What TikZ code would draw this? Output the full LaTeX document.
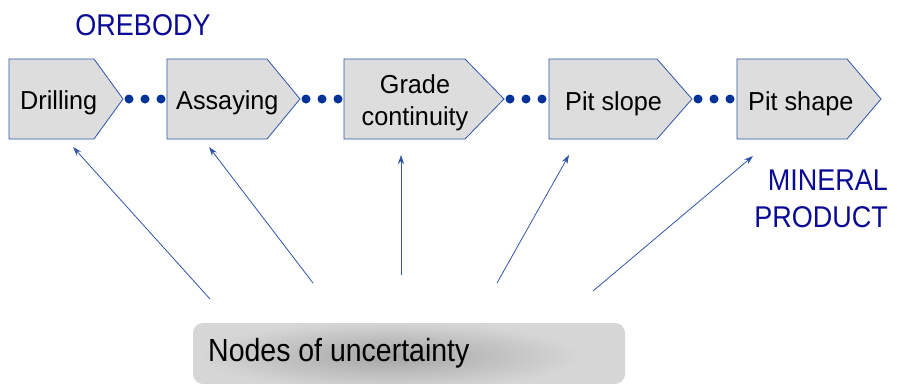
\documentclass[tikz,border=0pt]{standalone}
\usepackage{fontspec}
\setmainfont{Liberation Sans}
\usetikzlibrary{arrows.meta}
\definecolor{boxgray}{HTML}{DDDDDD}
\definecolor{edgeblue}{HTML}{2E54A8}
\definecolor{dotblue}{HTML}{003399}
\definecolor{textblue}{HTML}{0A0A96}
\definecolor{padgray}{HTML}{D6D6D6}
\def\Stage#1#2#3{\draw[edgeblue,fill=boxgray,line width=0.8pt] (#1,59) -- (#2,59) -- (#3,99) -- (#2,139) -- (#1,139) -- cycle;}
\def\Dots#1{\foreach \d in {6,22,38} \fill[dotblue] (#1+\d,99) circle (4.5);}

\begin{document}
\begin{tikzpicture}[x=1pt,y=-1pt,
  stagetext/.style={font=\fontsize{26}{32}\selectfont,inner sep=0pt},
  tag/.style={font=\fontsize{30}{37}\selectfont,text=textblue,inner sep=0pt},
  link/.style={edgeblue,line width=0.8pt,-{Stealth[length=9pt,width=6pt]}}]
\useasboundingbox (0,0) rectangle (897,383);
% value chain
\Stage{9}{94}{123} \Stage{167}{267}{300} \Stage{344}{465}{504} \Stage{549}{657}{692} \Stage{737}{847}{881}
\Dots{123} \Dots{300} \Dots{504} \Dots{692}
\node[stagetext,anchor=base west] (drill) at (20,109) {\scalebox{0.97}[1]{Drilling}};
\node[stagetext,anchor=base west] (assay) at (176,109) {\scalebox{0.97}[1]{Assaying}};
\node[stagetext,anchor=base,align=center] (grade) at (415,125) {\scalebox{0.97}[1]{Grade}\\\scalebox{0.97}[1]{continuity}};
\node[stagetext,anchor=base west] (slope) at (565,110) {\scalebox{0.97}[1]{Pit slope}};
\node[stagetext,anchor=base west] (shape) at (748,110) {\scalebox{0.97}[1]{Pit shape}};
\node[tag,anchor=base] (ore) at (143,35) {\scalebox{0.9}[1]{OREBODY}};
\node[tag,anchor=base east,align=right] (product) at (888,227) {\scalebox{0.9}[1]{MINERAL}\\\scalebox{0.9}[1]{PRODUCT}};
% uncertainty pad
\fill[padgray,rounded corners=10pt] (193,323) rectangle (625,384);
\begin{scope}
  \clip[rounded corners=10pt] (193,323) rectangle (625,384);
  \shade[inner color=gray!70,outer color=padgray] (390,356) ellipse (190 and 34);
\end{scope}
\node[anchor=base west,inner sep=0pt,font=\fontsize{32}{38}\selectfont] (unc) at (208,361) {\scalebox{0.89}[1]{Nodes of uncertainty}};
% arrows
\coordinate (s1) at (210,299); \coordinate (e1) at (73,147);
\coordinate (s2) at (313,283); \coordinate (e2) at (209,147);
\coordinate (s3) at (401,275); \coordinate (e3) at (401,155);
\coordinate (s4) at (497,283); \coordinate (e4) at (569,155);
\coordinate (s5) at (593,291); \coordinate (e5) at (753,156);
\foreach \i in {1,...,5} \draw[link] (s\i) -- (e\i);
\end{tikzpicture}
\end{document}
